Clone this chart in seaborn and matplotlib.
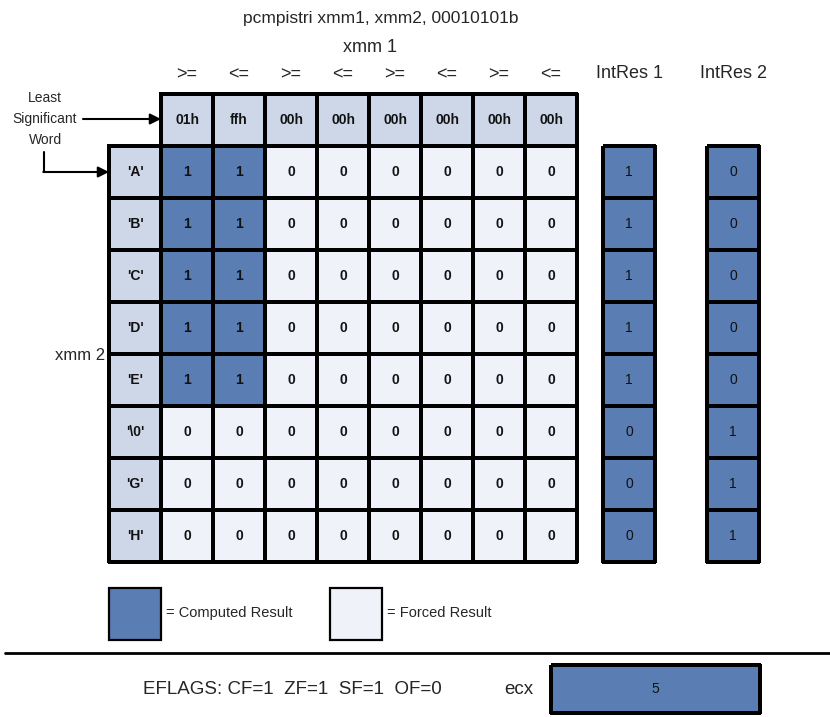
import numpy as np
import pandas as pd
import matplotlib
matplotlib.use("Agg")
import matplotlib.pyplot as plt
from matplotlib.colors import ListedColormap
from matplotlib.patches import Rectangle
import seaborn as sns

sns.set_style("white")
plt.rcParams['font.family'] = ['Liberation Sans', 'DejaVu Sans']

# data
ops = [">=", "<=", ">=", "<=", ">=", "<=", ">=", "<="]
xmm1 = ["01h", "ffh", "00h", "00h", "00h", "00h", "00h", "00h"]
xmm2 = ["'A'", "'B'", "'C'", "'D'", "'E'", "'\\0'", "'G'", "'H'"]
bits = [
    [1, 1, 0, 0, 0, 0, 0, 0],
    [1, 1, 0, 0, 0, 0, 0, 0],
    [1, 1, 0, 0, 0, 0, 0, 0],
    [1, 1, 0, 0, 0, 0, 0, 0],
    [1, 1, 0, 0, 0, 0, 0, 0],
    [0, 0, 0, 0, 0, 0, 0, 0],
    [0, 0, 0, 0, 0, 0, 0, 0],
    [0, 0, 0, 0, 0, 0, 0, 0],
]
intres1 = [1, 1, 1, 1, 1, 0, 0, 0]
intres2 = [0, 0, 0, 0, 0, 1, 1, 1]
ecx = 5
eflags = "EFLAGS: CF=1  ZF=1  SF=1  OF=0"

dark = "#5a7db3"
header = "#cdd7e8"
light = "#eff2f9"

W, H = 830, 717
fig = plt.figure(figsize=(W / 100, H / 100), dpi=100)
base = fig.add_axes([0, 0, 1, 1])
base.set_xlim(0, W)
base.set_ylim(H, 0)
base.axis('off')
base.set_zorder(3)  # arrows and texts above the grids


def px_axes(x0, y0, x1, y1):
    a = fig.add_axes([x0 / W, 1 - y1 / H, (x1 - x0) / W, (y1 - y0) / H])
    a.set_zorder(2)
    return a


# main grid: header row + label column + bits
# codes: 0 header, 1 computed, 2 forced
codes = np.full((9, 9), np.nan)
labels = np.full((9, 9), "", dtype=object)
codes[0, 1:] = 0
labels[0, 1:] = xmm1
for r in range(8):
    codes[r + 1, 0] = 0
    labels[r + 1, 0] = xmm2[r]
    for c in range(8):
        codes[r + 1, c + 1] = 1 if bits[r][c] else 2
        labels[r + 1, c + 1] = str(bits[r][c])
mask = np.isnan(codes)

ax = px_axes(109, 94, 577, 562)
sns.heatmap(pd.DataFrame(codes), mask=mask, cmap=ListedColormap([header, dark, light]),
            vmin=-0.5, vmax=2.5, annot=labels, fmt="", cbar=False,
            linewidths=1.6, linecolor='black', xticklabels=False, yticklabels=False,
            annot_kws=dict(fontsize=10, fontweight='bold', color='#111111'), ax=ax)
ax.collections[0].set_clip_on(False)
ax.axis('off')
# blank out the top and left edges of the empty corner cell
for rx, ry, rw, rh in [(-0.12, -0.12, 1.08, 0.18), (-0.12, -0.12, 0.18, 1.08)]:
    ax.add_patch(Rectangle((rx, ry), rw, rh, facecolor='white', edgecolor='none',
                           zorder=5, clip_on=False))

# IntRes columns
for x0, vals in [(603, intres1), (707, intres2)]:
    a = px_axes(x0, 146, x0 + 52, 562)
    sns.heatmap(pd.DataFrame({"v": vals}), cmap=ListedColormap([dark]), annot=True, fmt="d",
                cbar=False, linewidths=1.6, linecolor='black', xticklabels=False,
                yticklabels=False, annot_kws=dict(fontsize=10, color='#111111'), ax=a)
    a.collections[0].set_clip_on(False)
    a.axis('off')

# ecx box
a = px_axes(551, 665, 760, 713)
sns.heatmap(pd.DataFrame([[ecx]]), cmap=ListedColormap([dark]), annot=True, fmt="d",
            cbar=False, linewidths=1.6, linecolor='black', xticklabels=False,
            yticklabels=False, annot_kws=dict(fontsize=10, color='#111111'), ax=a)
a.collections[0].set_clip_on(False)
a.axis('off')

# texts
base.text(381, 18, "pcmpistri xmm1, xmm2, 00010101b", ha='center', va='center', fontsize=12.5)
base.text(370, 47, "xmm 1", ha='center', va='center', fontsize=13)
for i, op in enumerate(ops):
    base.text(187 + 52 * i, 75, op, ha='center', va='center', fontsize=13)
base.text(629, 73, "IntRes 1", ha='center', va='center', fontsize=13)
base.text(733, 73, "IntRes 2", ha='center', va='center', fontsize=13)
base.text(45, 119, "Least\nSignificant\nWord", ha='center', va='center', fontsize=10,
          linespacing=1.6)
base.text(80, 355, "xmm 2", ha='center', va='center', fontsize=12)

# arrows
base.annotate("", xy=(161, 119), xytext=(83, 119),
              arrowprops=dict(arrowstyle='-|>', color='black', lw=1.5, mutation_scale=16,
                              shrinkA=0, shrinkB=0))
base.plot([44, 44], [152, 172], color='black', lw=1.5)
base.annotate("", xy=(109, 172), xytext=(43.3, 172),
              arrowprops=dict(arrowstyle='-|>', color='black', lw=1.5, mutation_scale=16,
                              shrinkA=0, shrinkB=0))

# legend
base.add_patch(Rectangle((109, 588), 52, 52, facecolor=dark, edgecolor='black', lw=1.6))
base.text(166, 613, "= Computed Result", ha='left', va='center', fontsize=10.5)
base.add_patch(Rectangle((330, 588), 52, 52, facecolor=light, edgecolor='black', lw=1.6))
base.text(387, 613, "= Forced Result", ha='left', va='center', fontsize=10.5)

base.plot([5, 830], [653, 653], color='black', lw=2)

base.text(143, 689, eflags, ha='left', va='center', fontsize=13.5)
base.text(519, 689, "ecx", ha='center', va='center', fontsize=13.5)

fig.savefig("out.png", dpi=100)
